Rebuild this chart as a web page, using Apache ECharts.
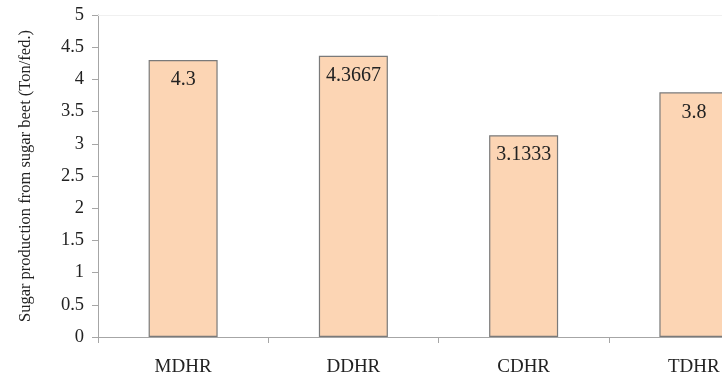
<!DOCTYPE html>
<html>
<head>
<meta charset="utf-8">
<script src="https://cdn.jsdelivr.net/npm/echarts@6/dist/echarts.min.js"></script>
<style>
  html, body { margin: 0; padding: 0; background: #fff; overflow: hidden; }
  /* the plot runs past the right edge of the window; the last bar is clipped */
  #chart { width: 779px; height: 377px; }
</style>
</head>
<body>
<div id="chart"></div>
<script>
// Harvest methods and sugar yield per feddan
const categories = ['MDHR', 'DDHR', 'CDHR', 'TDHR'];
const sugarYield = [4.3, 4.3667, 3.1333, 3.8];
const yTicks = { min: 0, max: 5, step: 0.5 };
const yAxisTitle = 'Sugar production from sugar beet (Ton/fed.)';

const serif = '"Liberation Serif", "DejaVu Serif", serif';
const axisGray = '#a6a6a6';

const chart = echarts.init(document.getElementById('chart'));
chart.setOption({
  animation: false,
  backgroundColor: '#ffffff',
  grid: { left: 98, top: 15, bottom: 39, right: 0, containLabel: false },
  xAxis: [{
    type: 'category',
    data: categories,
    boundaryGap: true,
    axisLine: { show: true, lineStyle: { color: axisGray, width: 1 } },
    axisTick: { show: true, length: 6, alignWithLabel: false, lineStyle: { color: axisGray } },
    axisLabel: { fontFamily: serif, fontSize: 19, color: '#222', margin: 21 },
    splitLine: { show: false }
  }, {
    // faint top edge of the plot frame
    type: 'category',
    position: 'top',
    data: categories,
    axisLine: { show: true, lineStyle: { color: '#f0f0f0', width: 1 } },
    axisTick: { show: false },
    axisLabel: { show: false }
  }],
  yAxis: {
    type: 'value',
    min: yTicks.min,
    max: yTicks.max,
    interval: yTicks.step,
    name: yAxisTitle,
    nameLocation: 'middle',
    nameGap: 64,
    nameRotate: 90,
    nameTextStyle: { fontFamily: serif, fontSize: 16.5, color: '#222' },
    axisLine: { show: true, lineStyle: { color: axisGray, width: 1 } },
    axisTick: { show: true, length: 6, lineStyle: { color: axisGray } },
    axisLabel: { fontFamily: serif, fontSize: 18.5, color: '#222', margin: 14 },
    splitLine: { show: false }
  },
  series: [{
    type: 'bar',
    data: sugarYield,
    barWidth: 69,
    itemStyle: { color: '#fcd5b4', borderColor: '#7a7a7a', borderWidth: 1.2 },
    label: {
      show: true,
      position: 'insideTop',
      distance: 10,
      fontFamily: serif,
      fontSize: 20,
      color: '#222',
      formatter: p => String(p.value)
    }
  }]
});
</script>
</body>
</html>
